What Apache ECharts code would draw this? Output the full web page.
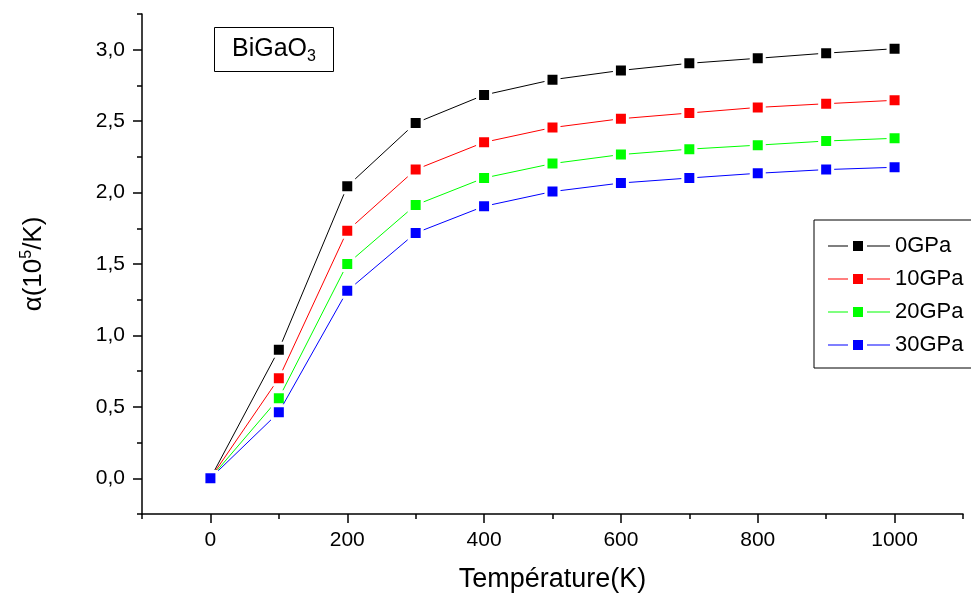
<!DOCTYPE html>
<html><head><meta charset="utf-8">
<script src="https://cdn.jsdelivr.net/npm/echarts@6/dist/echarts.min.js"></script>
<style>html,body{margin:0;padding:0;background:#fff}#c{width:971px;height:600px}</style>
</head><body><div id="c"></div>
<script>
const temperatures = [0, 100, 200, 300, 400, 500, 600, 700, 800, 900, 1000];
const alpha0GPa  = [0, 0.90, 2.044, 2.487, 2.683, 2.790, 2.855, 2.905, 2.940, 2.976, 3.007];
const alpha10GPa = [0, 0.70, 1.732, 2.161, 2.352, 2.455, 2.517, 2.557, 2.596, 2.622, 2.646];
const alpha20GPa = [0, 0.56, 1.500, 1.913, 2.102, 2.203, 2.266, 2.304, 2.332, 2.361, 2.380];
const alpha30GPa = [0, 0.462, 1.312, 1.717, 1.904, 2.007, 2.067, 2.102, 2.135, 2.161, 2.177];
const seriesNames = ['0GPa', '10GPa', '20GPa', '30GPa'];
const seriesColors = ['#000000', '#ff0000', '#00ff00', '#0000ff'];
const xMajorTicks = [0, 200, 400, 600, 800, 1000];
const yMajorTicks = [0, 0.5, 1.0, 1.5, 2.0, 2.5, 3.0];

const FONT = "'Liberation Sans', Arial, sans-serif";
const allData = [alpha0GPa, alpha10GPa, alpha20GPa, alpha30GPa];
const legendIcon = 'path://M0,4.5H20V5.5H0Z M25,0H35V10H25Z M39,4.5H62V5.5H39Z';

const chart = echarts.init(document.getElementById('c'), null, {renderer: 'canvas'});
const series = allData.map((vals, i) => ({
  name: seriesNames[i],
  type: 'line',
  xAxisIndex: 0, yAxisIndex: 0,
  data: temperatures.map((t, k) => [t, vals[k]]),
  symbol: 'rect',
  symbolSize: 13,
  showSymbol: true,
  lineStyle: {color: seriesColors[i], width: 1},
  itemStyle: {color: seriesColors[i], borderColor: '#ffffff', borderWidth: 3},
  emphasis: {disabled: true},
  animation: false,
  z: 2 + i
}));

const axisLineStyle = {color: '#000', width: 1.5};
chart.setOption({
  animation: false,
  backgroundColor: '#ffffff',
  grid: {left: 142, right: 8, top: 14, bottom: 86, containLabel: false},
  title: {
    text: '{a|BiGaO}{s|3}',
    left: 214, top: 24,
    borderColor: '#000', borderWidth: 1,
    padding: [9, 18, 7, 18],
    textStyle: {
      fontWeight: 'normal',
      rich: {
        a: {fontFamily: FONT, fontSize: 25, fontWeight: 'normal', color: '#000', lineHeight: 32},
        s: {fontFamily: FONT, fontSize: 16, fontWeight: 'normal', color: '#000', lineHeight: 16, verticalAlign: 'bottom'}
      }
    }
  },
  legend: {
    orient: 'vertical',
    left: 814, top: 220,
    data: seriesNames.map((n, i) => ({name: n, icon: legendIcon, itemStyle: {color: seriesColors[i], borderWidth: 0}})),
    borderColor: '#000', borderWidth: 1,
    padding: [15, 200, 12, 14],
    itemWidth: 62, itemHeight: 10,
    itemGap: 11,
    textStyle: {fontFamily: FONT, fontSize: 22, color: '#000', lineHeight: 22},
    selectedMode: false
  },
  xAxis: [{
    type: 'value', min: -100, max: 1100, interval: 100,
    position: 'bottom',
    name: 'Température(K)', nameLocation: 'middle', nameGap: 52,
    nameTextStyle: {fontFamily: FONT, fontSize: 27, color: '#000'},
    axisLine: {show: true, onZero: false, lineStyle: axisLineStyle},
    axisTick: {show: true, inside: false, length: 5, lineStyle: axisLineStyle},
    axisLabel: {
      fontFamily: FONT, fontSize: 21, color: '#000', margin: 16,
      formatter: v => xMajorTicks.indexOf(Math.round(v)) >= 0 ? String(Math.round(v)) : ''
    },
    splitLine: {show: false}
  }, {
    type: 'value', min: -100, max: 1100,
    position: 'bottom', offset: 0,
    axisLine: {show: false, onZero: false},
    axisTick: {show: true, inside: false, length: 9, lineStyle: axisLineStyle, customValues: xMajorTicks},
    axisLabel: {show: false},
    splitLine: {show: false}
  }],
  yAxis: [{
    type: 'value', min: -0.25, max: 3.25, interval: 0.25,
    position: 'left',
    name: '{a|α(10}{s|5}{a|/K)}', nameLocation: 'middle', nameGap: 93, nameRotate: 90,
    nameTextStyle: {
      rich: {
        a: {fontFamily: FONT, fontSize: 26, color: '#000', lineHeight: 30},
        s: {fontFamily: FONT, fontSize: 16, color: '#000', lineHeight: 16, verticalAlign: 'top'}
      }
    },
    axisLine: {show: true, onZero: false, lineStyle: axisLineStyle},
    axisTick: {show: true, inside: false, length: 5, lineStyle: axisLineStyle},
    axisLabel: {
      fontFamily: FONT, fontSize: 21, color: '#000', margin: 17,
      formatter: v => {
        const r = Math.round(v * 100) / 100;
        return yMajorTicks.indexOf(r) >= 0 ? r.toFixed(1).replace('.', ',') : '';
      }
    },
    splitLine: {show: false}
  }, {
    type: 'value', min: -0.25, max: 3.25,
    position: 'left', offset: 0,
    axisLine: {show: false, onZero: false},
    axisTick: {show: true, inside: false, length: 9, lineStyle: axisLineStyle, customValues: yMajorTicks},
    axisLabel: {show: false},
    splitLine: {show: false}
  }],
  series: series
});
</script>
</body></html>
